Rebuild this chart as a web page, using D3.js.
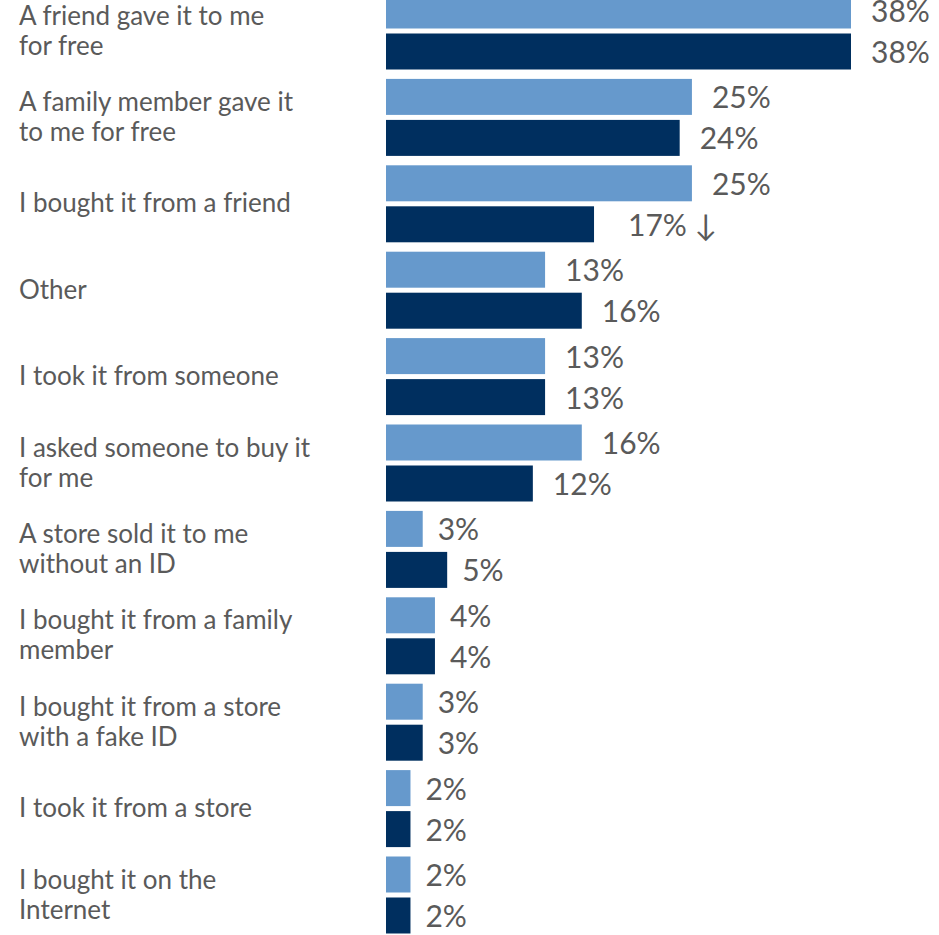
<!DOCTYPE html>
<html>
<head>
<meta charset="utf-8">
<script src="https://cdn.jsdelivr.net/npm/d3@7"></script>
<style>
  html, body { margin: 0; padding: 0; background: #ffffff; }
  svg { display: block; }
</style>
</head>
<body>
<svg id="chart" width="939" height="935"></svg>
<script>
// ---- data ----
const categories = [
  "A friend gave it to me|for free",
  "A family member gave it|to me for free",
  "I bought it from a friend",
  "Other",
  "I took it from someone",
  "I asked someone to buy it|for me",
  "A store sold it to me|without an ID",
  "I bought it from a family|member",
  "I bought it from a store|with a fake ID",
  "I took it from a store",
  "I bought it on the|Internet"
];
const seriesNames = ["earlier", "later"];
const earlierValues = [38, 25, 25, 13, 13, 16, 3, 4, 3, 2, 2];
const laterValues   = [38, 24, 17, 16, 13, 12, 5, 4, 3, 2, 2];
const laterArrows   = ["", "", "↓", "", "", "", "", "", "", "", ""];

// ---- layout ----
const svg = d3.select("#chart");
const colors = { earlier: "#6699cc", later: "#002f5f" };
const textColor = "#5a5a5a";
const catFont = "Lato, 'Open Sans', sans-serif";

const x = d3.scaleLinear().domain([0, 38]).range([386, 851]);
const y = d3.scaleBand().domain(categories).range([-12.2, -12.2 + 11 * 86.4]).padding(0);
const yInner = d3.scaleBand().domain(seriesNames).range([4.7, 81.7]).paddingInner(0.122).paddingOuter(0);

const rows = categories.map((c, i) => ({
  cat: c,
  bars: [
    { s: "earlier", v: earlierValues[i], arrow: "" },
    { s: "later", v: laterValues[i], arrow: laterArrows[i] }
  ]
}));

const g = svg.append("g");
const row = g.selectAll("g.row").data(rows).join("g")
  .attr("class", "row")
  .attr("transform", d => `translate(0,${y(d.cat)})`);

row.selectAll("rect").data(d => d.bars).join("rect")
  .attr("x", x(0))
  .attr("y", d => yInner(d.s))
  .attr("width", d => x(d.v) - x(0))
  .attr("height", yInner.bandwidth())
  .attr("fill", d => colors[d.s]);

row.selectAll("text.val").data(d => d.bars).join("text")
  .attr("class", "val")
  .attr("x", d => x(d.v) + (d.v >= 10 ? 20 : 15) + (d.arrow ? 14 : 0))
  .attr("y", d => yInner(d.s) + yInner.bandwidth() / 2 + 4)
  .attr("dominant-baseline", "middle")
  .attr("font-family", catFont)
  .attr("font-size", 30)
  .attr("fill", textColor)
  .text(d => d.v + "%" + (d.arrow ? " " + d.arrow : ""));

// category labels
const lineH = 30;
row.append("text")
  .attr("class", "cat")
  .attr("font-family", catFont)
  .attr("font-size", 26)
  .attr("fill", textColor)
  .each(function(d) {
    const lines = d.cat.split("|");
    const t = d3.select(this);
    const mid = y.bandwidth() / 2 + 2;
    lines.forEach((ln, j) => {
      t.append("tspan")
        .attr("x", 19)
        .attr("y", mid + (j - (lines.length - 1) / 2) * lineH)
        .attr("dominant-baseline", "middle")
        .text(ln);
    });
  });
</script>
</body>
</html>
